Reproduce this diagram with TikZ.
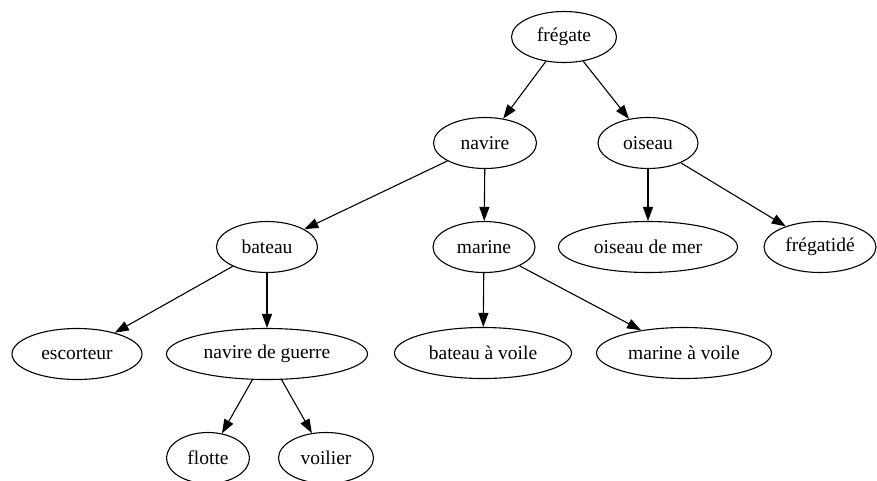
\documentclass[tikz,border=0pt]{standalone}
\usepackage{fontspec}
\setmainfont{Liberation Serif}
\usetikzlibrary{shapes.geometric,arrows.meta}
\begin{document}
\begin{tikzpicture}[x=1pt,y=-1pt,
  nd/.style={draw, ellipse, line width=1.1pt, inner sep=0pt, minimum height=51pt,
    font=\fontsize{19.5}{22}\selectfont},
  edge/.style={line width=1.1pt, -{Triangle[length=14pt,width=10pt]}}]
\useasboundingbox (0,0) rectangle (877,480);
\node[nd, minimum width=105pt] (fregate) at (564,37) {frégate};
\node[nd, minimum width=103pt] (navire) at (485,143) {navire};
\node[nd, minimum width=100pt] (oiseau) at (648,143) {oiseau};
\node[nd, minimum width=101pt] (bateau) at (267,247) {bateau};
\node[nd, minimum width=102pt] (marine) at (484,247) {marine};
\node[nd, minimum width=179pt] (oiseaumer) at (648,247) {oiseau de mer};
\node[nd, minimum width=112pt] (fregatide) at (820,247) {frégatidé};
\node[nd, minimum width=130pt] (escorteur) at (77,354) {escorteur};
\node[nd, minimum width=201pt] (navireguerre) at (267,354) {navire de guerre};
\node[nd, minimum width=177pt] (bateauvoile) at (483,353) {bateau à voile};
\node[nd, minimum width=175pt] (marinevoile) at (684,353) {marine à voile};
\node[nd, minimum width=83pt] (flotte) at (208,458) {flotte};
\node[nd, minimum width=95pt] (voilier) at (326,458) {voilier};
\draw[edge] (fregate) -- (navire);
\draw[edge] (fregate) -- (oiseau);
\draw[edge] (navire) -- (bateau);
\draw[edge] (navire) -- (marine);
\draw[edge] (oiseau) -- (oiseaumer);
\draw[edge] (oiseau) -- (fregatide);
\draw[edge] (bateau) -- (escorteur);
\draw[edge] (bateau) -- (navireguerre);
\draw[edge] (marine) -- (bateauvoile);
\draw[edge] (marine) -- (marinevoile);
\draw[edge] (navireguerre) -- (flotte);
\draw[edge] (navireguerre) -- (voilier);
\end{tikzpicture}
\end{document}
